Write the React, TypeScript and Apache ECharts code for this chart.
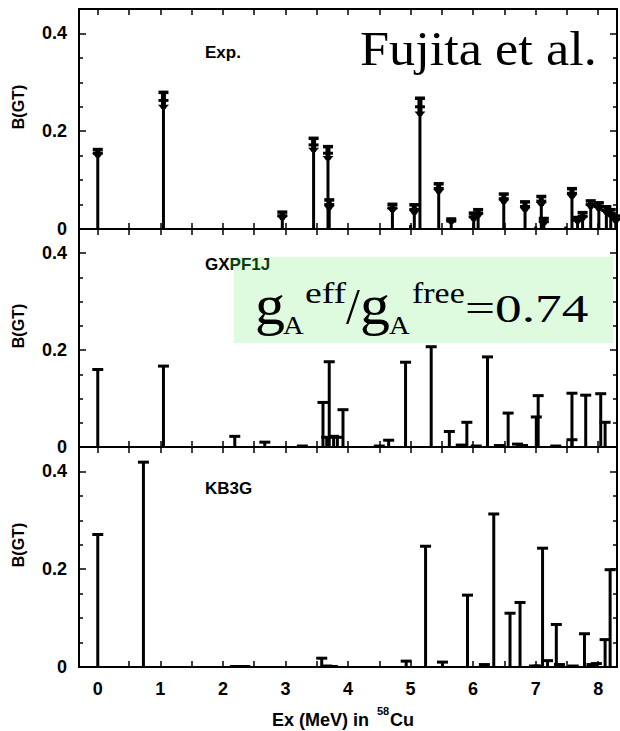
import React, { useEffect, useRef } from "react";
import * as echarts from "echarts";

// ---------- data ----------
// Experimental B(GT): [Ex (MeV), B(GT), error]
const expData: number[][] = [
  [0.0, 0.155, 0.008], [1.05, 0.263, 0.017], [2.95, 0.027, 0.008],
  [3.45, 0.172, 0.014], [3.68, 0.155, 0.014], [3.7, 0.05, 0.01],
  [4.71, 0.043, 0.008], [5.0, 0.008, 0], [5.06, 0.04, 0.01],
  [5.15, 0.25, 0.018], [5.45, 0.083, 0.01], [5.65, 0.016, 0.005],
  [6.01, 0.025, 0.008], [6.08, 0.032, 0.008], [6.49, 0.062, 0.01],
  [6.83, 0.046, 0.01], [7.0, 0.005, 0], [7.09, 0.057, 0.01],
  [7.13, 0.015, 0.007], [7.48, 0.005, 0], [7.58, 0.073, 0.01],
  [7.67, 0.018, 0.006], [7.75, 0.026, 0.008], [7.88, 0.05, 0.008],
  [8.01, 0.046, 0.008], [8.13, 0.038, 0.008], [8.2, 0.032, 0.008],
  [8.28, 0.02, 0.007],
];
// GXPF1J shell-model B(GT): [Ex, B(GT)]
const gxpf1jData: number[][] = [
  [0.0, 0.16], [1.05, 0.167], [2.19, 0.022], [2.67, 0.01], [3.27, 0.002],
  [3.6, 0.092], [3.66, 0.02], [3.7, 0.176], [3.77, 0.022], [3.83, 0.02],
  [3.92, 0.077], [4.5, 0.002], [4.65, 0.014], [4.92, 0.175], [5.33, 0.207],
  [5.62, 0.032], [5.81, 0.004], [5.9, 0.051], [6.05, 0.002], [6.23, 0.186],
  [6.42, 0.003], [6.56, 0.07], [6.71, 0.006], [6.79, 0.003], [7.01, 0.062],
  [7.04, 0.106], [7.32, 0.002], [7.58, 0.111], [7.58, 0.015], [7.8, 0.107],
  [8.04, 0.11], [8.11, 0.051],
];
// KB3G shell-model B(GT): [Ex, B(GT)]
const kb3gData: number[][] = [
  [0.0, 0.271], [0.73, 0.419], [2.2, 0.001], [2.35, 0.001], [3.58, 0.018],
  [3.66, 0.002], [3.75, 0.001], [4.93, 0.012], [5.24, 0.247], [5.51, 0.01],
  [5.91, 0.147], [6.18, 0.005], [6.33, 0.313], [6.59, 0.11], [6.75, 0.132],
  [6.98, 0.002], [7.04, 0.002], [7.11, 0.243], [7.19, 0.013], [7.33, 0.087],
  [7.38, 0.005], [7.6, 0.002], [7.78, 0.068], [7.9, 0.005], [7.97, 0.007],
  [8.11, 0.056], [8.19, 0.199],
];

const panelLabels = ["Exp.", "GXPF1J", "KB3G"];
const xLabelValues = [0, 1, 2, 3, 4, 5, 6, 7, 8];
const xTickValues = [0, 0.5, 1, 1.5, 2, 2.5, 3, 3.5, 4, 4.5, 5, 5.5, 6, 6.5, 7, 7.5, 8];
const yLabelValues = [0, 0.2, 0.4];
const yMajorTicks = [0.2, 0.4];
const yMinorTicks = [0.05, 0.1, 0.15, 0.25, 0.3, 0.35];
const X_MIN = -0.3;
const X_MAX = 8.3;
const Y_MAX = 0.45;

// ---------- layout ----------
const LEFT = 79;
const WIDTH = 538;
const panelTop = [9, 229, 447];
const panelHeight = [220, 218, 220];

const SANS = "'Liberation Sans', Arial, Helvetica, sans-serif";
const SERIF = "'Liberation Serif', 'Times New Roman', Times, serif";

function stemRender(params: any, api: any) {
  const x = api.value(0);
  const v = api.value(1);
  const p0 = api.coord([x, 0]);
  const p1 = api.coord([x, v]);
  return {
    type: "group",
    children: [
      { type: "line", shape: { x1: p0[0], y1: p0[1], x2: p1[0], y2: p1[1] }, style: { stroke: "#000", lineWidth: 3 } },
      { type: "line", shape: { x1: p1[0] - 5.5, y1: p1[1], x2: p1[0] + 5.5, y2: p1[1] }, style: { stroke: "#000", lineWidth: 3 } },
    ],
  };
}

function expRender(params: any, api: any) {
  const x = api.value(0);
  const v = api.value(1);
  const e = api.value(2);
  const p0 = api.coord([x, 0]);
  const p1 = api.coord([x, v]);
  const px = p1[0];
  const children: any[] = [
    { type: "line", shape: { x1: p0[0], y1: p0[1], x2: px, y2: p1[1] }, style: { stroke: "#000", lineWidth: 3 } },
  ];
  if (e > 0) {
    const yt = api.coord([x, v + e])[1];
    const yb = api.coord([x, Math.max(v - e, 0)])[1];
    const yv = p1[1];
    children.push(
      { type: "rect", shape: { x: px - 2.5, y: yt, width: 5, height: Math.max(yb - yt, 1) }, style: { fill: "#000" } },
      { type: "rect", shape: { x: px - 5, y: yt - 1.5, width: 10, height: 3.5 }, style: { fill: "#000" } },
      { type: "polygon", shape: { points: [[px - 5.5, yb - 4], [px + 5.5, yb - 4], [px, yb + 2]] }, style: { fill: "#000" } },
      { type: "rect", shape: { x: px - 5, y: yv - 1.5, width: 10, height: 3 }, style: { fill: "#000" } }
    );
  }
  return { type: "group", children };
}

export default function App() {
  const ref = useRef<HTMLDivElement>(null);

  useEffect(() => {
    if (!ref.current) return;
    const chart = echarts.init(ref.current, null, { renderer: "svg" });

    const grids: any[] = [];
    const xAxes: any[] = [];
    const yAxes: any[] = [];
    const series: any[] = [];
    const axisLineStyle = { color: "#000", width: 2 };
    const tickStyle = { color: "#000", width: 1.5 };
    const labelStyle = { color: "#000", fontFamily: SANS, fontWeight: "bold", fontSize: 18 };

    for (let i = 0; i < 3; i++) {
      grids.push({ left: LEFT, top: panelTop[i], width: WIDTH, height: panelHeight[i], outerBoundsMode: "none" });
      for (const pos of ["bottom", "top"]) {
        xAxes.push({
          gridIndex: i, type: "value", position: pos, min: X_MIN, max: X_MAX,
          axisLine: { show: true, onZero: false, lineStyle: axisLineStyle },
          axisTick: { show: true, inside: true, length: 6, customValues: xTickValues, lineStyle: tickStyle },
          axisLabel: i === 2 && pos === "bottom"
            ? { show: true, customValues: xLabelValues, margin: 13, ...labelStyle }
            : { show: false },
          splitLine: { show: false },
        });
      }
      for (const pos of ["left", "right"]) {
        yAxes.push({
          gridIndex: i, type: "value", position: pos, min: 0, max: Y_MAX,
          axisLine: { show: true, onZero: false, lineStyle: axisLineStyle },
          axisTick: { show: true, inside: true, length: 7, customValues: yMajorTicks, lineStyle: tickStyle },
          axisLabel: pos === "left"
            ? { show: true, customValues: yLabelValues, margin: 12, formatter: (v: number) => (v === 0 ? "0" : v.toFixed(1)), ...labelStyle }
            : { show: false },
          splitLine: { show: false },
        });
        yAxes.push({
          gridIndex: i, type: "value", position: pos, min: 0, max: Y_MAX,
          axisLine: { show: false, onZero: false },
          axisTick: { show: true, inside: true, length: 4, customValues: yMinorTicks, lineStyle: tickStyle },
          axisLabel: { show: false },
          splitLine: { show: false },
        });
      }
    }

    series.push({ type: "custom", xAxisIndex: 0, yAxisIndex: 0, renderItem: expRender, data: expData, clip: false, z: 3 });
    series.push({ type: "custom", xAxisIndex: 2, yAxisIndex: 4, renderItem: stemRender, data: gxpf1jData, clip: false, z: 3 });
    series.push({ type: "custom", xAxisIndex: 4, yAxisIndex: 8, renderItem: stemRender, data: kb3gData, clip: false, z: 3 });

    const graphic: any[] = [];
    // green box
    graphic.push({ type: "rect", z: -5, shape: { x: 234, y: 257, width: 379, height: 86 }, style: { fill: "#dffbdf" } });
    // y-axis titles
    for (let i = 0; i < 3; i++) {
      graphic.push({
        type: "text", x: 18, y: panelTop[i] + panelHeight[i] / 2 - 12, rotation: Math.PI / 2,
        style: { text: "B(GT)", fontFamily: SANS, fontWeight: "bold", fontSize: 16, fill: "#000", align: "center", verticalAlign: "middle" },
      });
    }
    // panel labels
    const labelY = [52, 264, 488];
    panelLabels.forEach((t, i) => {
      graphic.push({
        type: "text", x: 205, y: labelY[i], z: 10,
        style: i === 1
          ? { text: "{a|GX}{b|PF1J}", rich: { a: { fontFamily: SANS, fontWeight: "bold", fontSize: 17, fill: "#000" }, b: { fontFamily: SANS, fontWeight: "bold", fontSize: 17, fill: "#0d3a0d" } }, align: "left", verticalAlign: "middle" }
          : { text: t, fontFamily: SANS, fontWeight: "bold", fontSize: 17, fill: "#000", align: "left", verticalAlign: "middle" },
      });
    });
    // Fujita et al.
    graphic.push({
      type: "text", x: 360, y: 49, scaleX: 1.09, z: 10,
      style: { text: "Fujita et al.", fontFamily: SERIF, fontSize: 48, fill: "#000", align: "left", verticalAlign: "middle" },
    });
    // gA^eff / gA^free = 0.74
    const serifTxt = (text: string, x: number, y: number, fs: number, sx: number) => ({
      type: "text", x, y, scaleX: sx, z: 10,
      style: { text, fontFamily: SERIF, fontSize: fs, lineHeight: Math.round(fs * 0.7), fill: "#000", align: "left", verticalAlign: "middle" },
    });
    graphic.push(serifTxt("g", 255, 305, 56, 1.07));
    graphic.push(serifTxt("A", 283, 325, 26, 1.1));
    graphic.push(serifTxt("eff", 305, 293, 29, 1.3));
    graphic.push(serifTxt("/", 346, 306, 50, 1.0));
    graphic.push(serifTxt("g", 360, 305, 56, 1.07));
    graphic.push(serifTxt("A", 389, 325, 26, 1.1));
    graphic.push(serifTxt("free", 412, 293, 29, 1.17));
    graphic.push(serifTxt("=0.74", 465, 308, 41, 1.3));
    // x-axis title with superscript
    graphic.push({
      type: "text", x: 272, y: 720,
      style: { text: "Ex (MeV) in ", fontFamily: SANS, fontWeight: "bold", fontSize: 18, fill: "#000", align: "left", verticalAlign: "middle" },
    });
    graphic.push({
      type: "text", x: 377, y: 711,
      style: { text: "58", fontFamily: SANS, fontWeight: "bold", fontSize: 11, fill: "#000", align: "left", verticalAlign: "middle" },
    });
    graphic.push({
      type: "text", x: 390, y: 720,
      style: { text: "Cu", fontFamily: SANS, fontWeight: "bold", fontSize: 18, fill: "#000", align: "left", verticalAlign: "middle" },
    });

    chart.setOption({
      animation: false,
      backgroundColor: "#fff",
      grid: grids,
      xAxis: xAxes,
      yAxis: yAxes,
      series,
      graphic,
    });
    return () => chart.dispose();
  }, []);

  return <div ref={ref} style={{ position: "fixed", left: 0, top: 0, width: 620, height: 731 }} />;
}
